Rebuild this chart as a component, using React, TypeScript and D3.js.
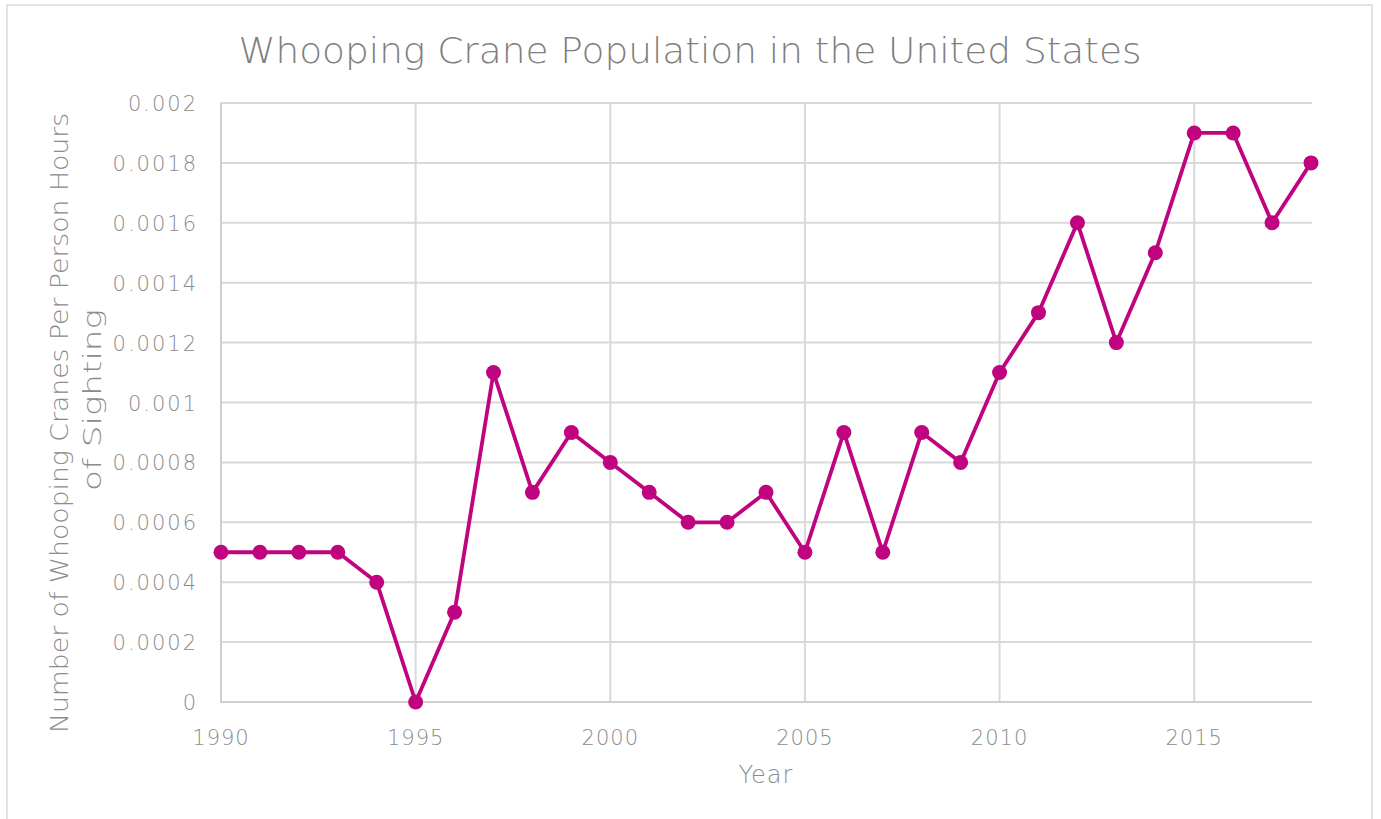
import React from "react";
import * as d3 from "d3";

const years = [1990,1991,1992,1993,1994,1995,1996,1997,1998,1999,2000,2001,2002,2003,2004,2005,2006,2007,2008,2009,2010,2011,2012,2013,2014,2015,2016,2017,2018];
const values = [0.0005,0.0005,0.0005,0.0005,0.0004,0,0.0003,0.0011,0.0007,0.0009,0.0008,0.0007,0.0006,0.0006,0.0007,0.0005,0.0009,0.0005,0.0009,0.0008,0.0011,0.0013,0.0016,0.0012,0.0015,0.0019,0.0019,0.0016,0.0018];
const yTicks = [0,0.0002,0.0004,0.0006,0.0008,0.001,0.0012,0.0014,0.0016,0.0018,0.002];
const xTicks = [1990,1995,2000,2005,2010,2015];
const title = "Whooping Crane Population in the United States";
const yTitle = ["Number of Whooping Cranes Per Person Hours", "of Sighting"];
const xTitle = "Year";

const W = 1381, H = 819;
const FONT = "'DejaVu Sans', sans-serif";

export default function App() {
  const x = d3.scaleLinear().domain([1990, 2018]).range([221, 1311]);
  const y = d3.scaleLinear().domain([0, 0.002]).range([702, 103]);
  const line = d3.line<number>().x((_, i) => x(years[i])).y(d => y(d));
  const fmt = (v: number) => (v === 0 ? "0" : String(+v.toFixed(4)));
  return (
    <svg width={W} height={H} style={{ position: "absolute", left: 0, top: 0 }}>
      <rect x={0} y={0} width={W} height={H} fill="#fff" />
      <rect x={7} y={5} width={1365} height={830} fill="#fff" stroke="#d9d9d9" strokeWidth={1.5} />
      <text x={690} y={63} textAnchor="middle" fontFamily={FONT} fontWeight={200} fontSize={35} fill="#7f7f7f" textLength={903} lengthAdjust="spacingAndGlyphs">{title}</text>
      {yTicks.map(t => (
        <g key={"y" + t}>
          {t !== 0 && <line x1={221} x2={1312} y1={y(t)} y2={y(t)} stroke="#d9d9d9" strokeWidth={2} />}
          <text x={198} y={y(t) + 8} textAnchor="end" fontFamily={FONT} fontWeight={200} fontSize={21} fill="#8c8c8c" letterSpacing={2}>{fmt(t)}</text>
        </g>
      ))}
      {xTicks.map(t => (
        <g key={"x" + t}>
          {t !== 1990 && <line x1={x(t)} x2={x(t)} y1={103} y2={702} stroke="#d9d9d9" strokeWidth={2} />}
          <text x={x(t)} y={745} textAnchor="middle" fontFamily={FONT} fontWeight={200} fontSize={21} fill="#8c8c8c" letterSpacing={1}>{t}</text>
        </g>
      ))}
      <line x1={221} x2={221} y1={103} y2={703} stroke="#cfcfcf" strokeWidth={2} />
      <line x1={220} x2={1312} y1={702} y2={702} stroke="#cfcfcf" strokeWidth={2} />
      <path d={line(values) || ""} fill="none" stroke="#c0047f" strokeWidth={3.8} strokeLinejoin="round" />
      {values.map((v, i) => (
        <circle key={i} cx={x(years[i])} cy={y(v)} r={7.5} fill="#c0047f" />
      ))}
      <text x={766} y={783} textAnchor="middle" fontFamily={FONT} fontWeight={200} fontSize={24} fill="#8c8c8c" letterSpacing={1}>{xTitle}</text>
      <text transform="translate(68,423) rotate(-90)" textAnchor="middle" fontFamily={FONT} fontWeight={200} fontSize={25} fill="#8c8c8c" textLength={620} lengthAdjust="spacingAndGlyphs">{yTitle[0]}</text>
      <text transform="translate(101,400) rotate(-90)" textAnchor="middle" fontFamily={FONT} fontWeight={200} fontSize={25} fill="#8c8c8c" textLength={182} lengthAdjust="spacingAndGlyphs">{yTitle[1]}</text>
    </svg>
  );
}
